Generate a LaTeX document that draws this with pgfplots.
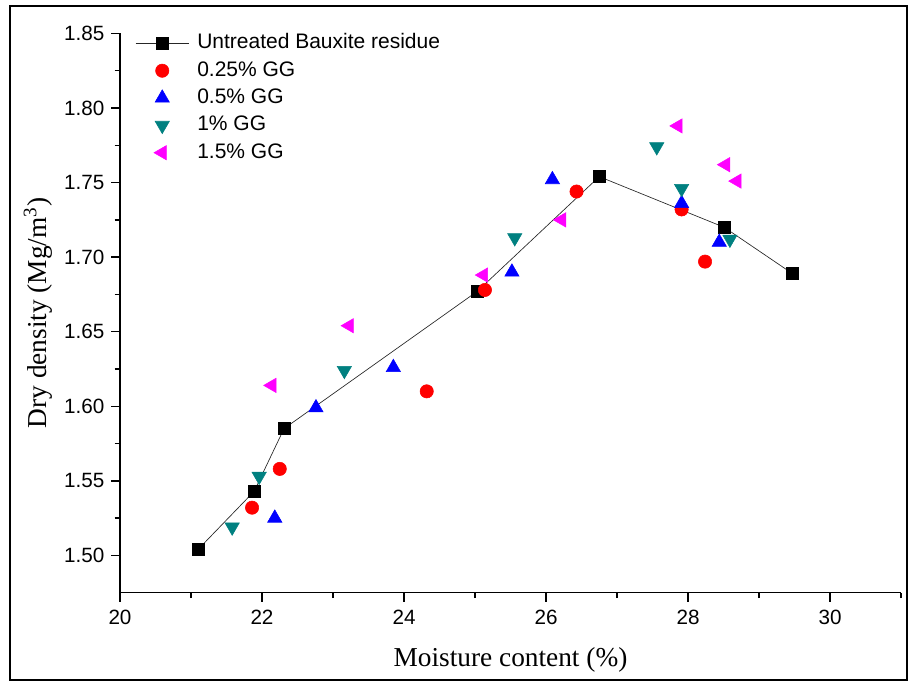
\documentclass[border=0pt]{standalone}
\usepackage{fontspec}
\setmainfont{Liberation Serif}
\newfontfamily\arial{Liberation Sans}
\usepackage{pgfplots}
\pgfplotsset{compat=1.18}
\definecolor{cteal}{HTML}{008080}
\definecolor{cmag}{HTML}{FF00FF}
\begin{document}
\begin{tikzpicture}
\begin{axis}[
  scale only axis, width=585.75pt, height=419.4pt,
  xmin=20, xmax=31, ymin=1.475, ymax=1.85,
  axis x line=bottom, axis y line=left,
  axis line style={-, line width=1.1pt},
  xtick={20,22,24,26,28,30}, minor xtick={21,23,25,27,29,31},
  ytick={1.50,1.55,1.60,1.65,1.70,1.75,1.80,1.85},
  minor ytick={1.525,1.575,1.625,1.675,1.725,1.775,1.825},
  tick align=outside, major tick length=6.75pt, minor tick length=4pt,
  every tick/.style={black, line width=1.1pt},
  /pgf/number format/assume math mode=true,
  tick label style={font=\arial\fontsize{15.5}{18}\selectfont},
  xticklabel style={yshift=-3pt},
  yticklabel style={xshift=-1.5pt, /pgf/number format/.cd, fixed, fixed zerofill, precision=2},
  xlabel={Moisture content (\%)},
  ylabel={Dry density (Mg/m\textsuperscript{3})},
  every axis x label/.style={at={(axis description cs:0.5,-0.1204)}, anchor=center, font=\fontsize{20.5}{24}\selectfont},
  every axis y label/.style={at={(axis description cs:-0.105,0.5)}, rotate=90, anchor=center, font=\fontsize{20.5}{24}\selectfont},
  legend cell align=left,
  legend image code/.code={\draw[mark repeat=2,mark phase=2] plot coordinates {(0pt,0pt) (20pt,0pt) (40pt,0pt)};},
  legend style={draw=none, fill=none, at={(axis description cs:0.0192,1.003)}, anchor=north west,
    inner sep=0pt, row sep=3.5pt,
    font=\arial\fontsize{15.75}{18}\selectfont,
    nodes={text height=11.5pt, text depth=3.5pt, inner ysep=1pt, inner xsep=6pt}},
]
\addplot[black!85, line width=0.5pt, mark=square*, mark size=4.4pt, mark options={solid, fill=black, draw=black}]
  coordinates {(21.10,1.504) (21.89,1.543) (22.31,1.585) (25.03,1.677) (26.75,1.754) (28.51,1.720) (29.47,1.689)};
\addlegendentry{Untreated Bauxite residue}
\addplot[only marks, mark=*, mark size=5pt, mark options={draw=red, fill=red}]
  coordinates {(21.86,1.532) (22.25,1.558) (24.32,1.610) (25.14,1.678) (26.43,1.744) (27.91,1.732) (28.24,1.697)};
\addlegendentry{0.25\% GG}
\addplot[only marks, mark=triangle*, mark size=6.2pt, mark options={draw=blue, fill=blue}]
  coordinates {(22.18,1.525) (22.76,1.599) (23.85,1.626) (25.52,1.690) (26.09,1.752) (27.91,1.736) (28.44,1.710)};
\addlegendentry{0.5\% GG}
\addplot[only marks, mark=triangle*, mark size=6.2pt, mark options={draw=cteal, fill=cteal, rotate=180}]
  coordinates {(21.58,1.519) (21.96,1.553) (23.16,1.624) (25.56,1.713) (27.56,1.774) (27.91,1.746) (28.59,1.712)};
\addlegendentry{1\% GG}
\addplot[only marks, mark=triangle*, mark size=6.2pt, mark options={draw=cmag, fill=cmag, rotate=90}]
  coordinates {(22.14,1.614) (23.23,1.654) (25.12,1.688) (26.22,1.725) (27.86,1.788) (28.53,1.762) (28.69,1.751)};
\addlegendentry{1.5\% GG}
\coordinate (ll) at (rel axis cs:0,0);
\end{axis}
\draw[line width=1.5pt] ([shift={(-82.5pt,-65.5pt)}]ll) rectangle ([shift={(590.25pt,440pt)}]ll);
\path ([shift={(-90pt,-72.2pt)}]ll) rectangle ([shift={(591.75pt,444.5pt)}]ll);
\end{tikzpicture}
\end{document}
